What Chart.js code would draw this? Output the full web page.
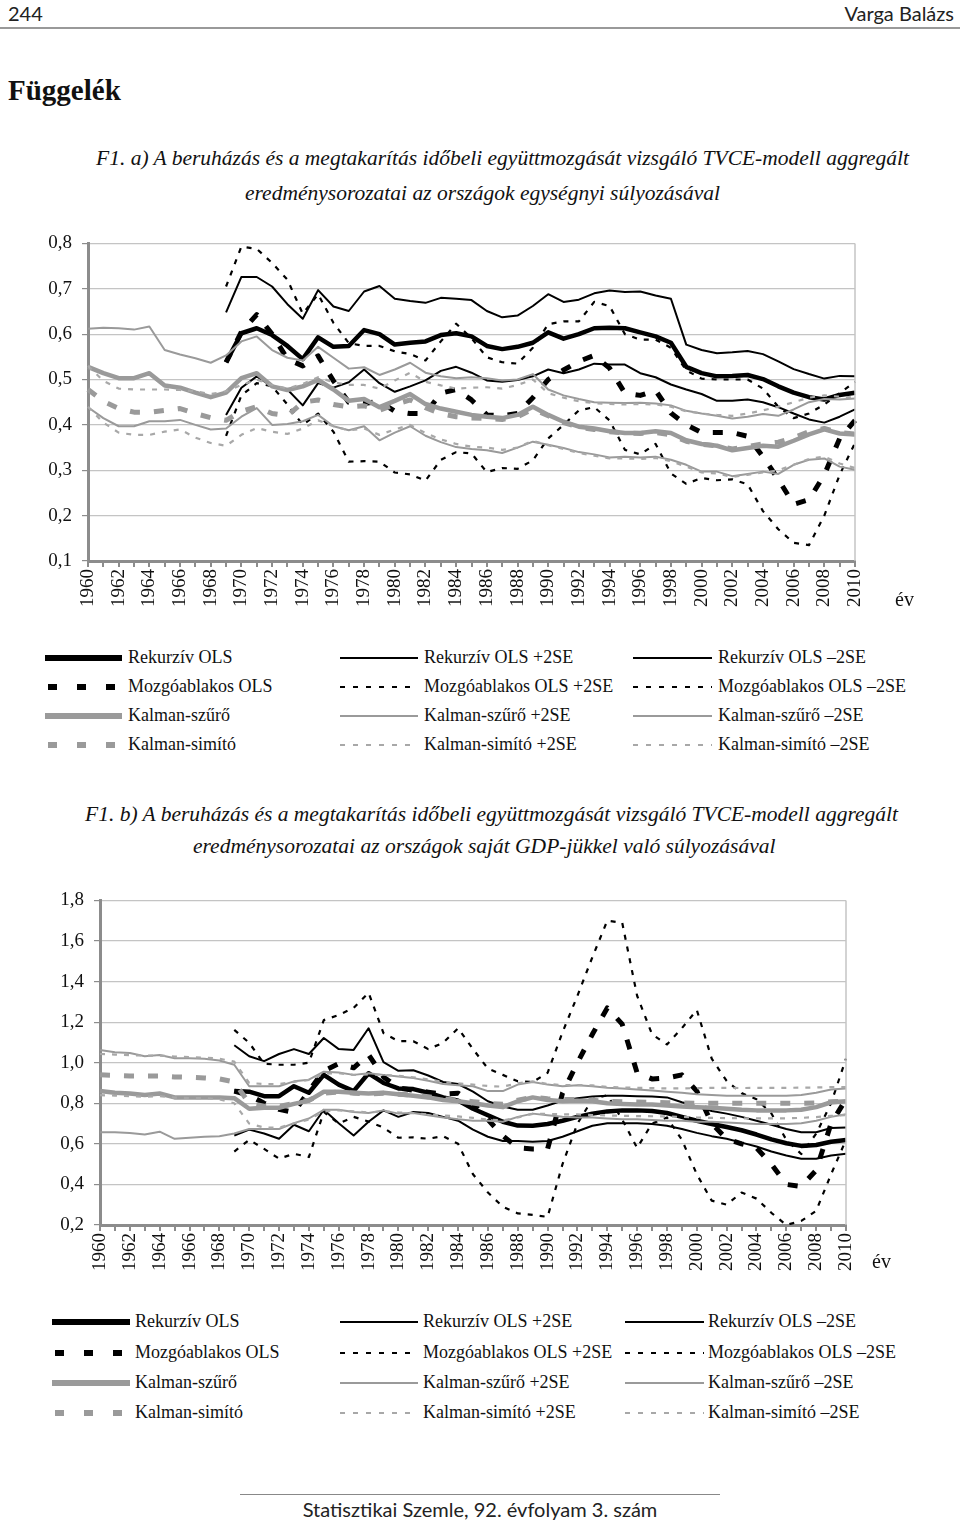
<!DOCTYPE html>
<html>
<head>
<meta charset="utf-8">
<script src="https://cdn.jsdelivr.net/npm/chart.js@4.4.1/dist/chart.umd.min.js"></script>
<style>
    body { margin: 0; background: #fff; width: 960px; height: 1523px; position: relative; overflow: hidden; font-family: "Liberation Serif", serif; color: #111; }
    .abs { position: absolute; white-space: nowrap; }
    .head { font-family: Lato, "DejaVu Sans", sans-serif; font-size: 20px; color: #222; }
    .title { font-style: italic; font-size: 21.5px; }
    .leg { font-size: 18px; }
    canvas { position: absolute; left: 0; }
</style>
</head>
<body>
<div class="abs head" style="left:8px;top:1px;">244</div>
<div class="abs head" style="right:6px;top:1px;">Varga Balázs</div>
<div class="abs" style="left:0;top:27px;width:960px;height:2px;background:#999;"></div>
<div class="abs" style="left:8px;top:74px;font-size:29px;font-weight:bold;">Függelék</div>

<div class="abs title" style="left:96px;top:146px;">F1. a) A beruházás és a megtakarítás időbeli együttmozgását vizsgáló TVCE-modell aggregált</div>
<div class="abs title" style="left:245px;top:181px;">eredménysorozatai az országok egységnyi súlyozásával</div>
<canvas id="chartA" width="960" height="410" style="top:222px"></canvas>
<div class="abs" style="left:895px;top:588px;font-size:20px;">év</div>
<div id="legendA"></div>

<div class="abs title" style="left:85px;top:802px;">F1. b) A beruházás és a megtakarítás időbeli együttmozgását vizsgáló TVCE-modell aggregált</div>
<div class="abs title" style="left:193px;top:834px;">eredménysorozatai az országok saját GDP-jükkel való súlyozásával</div>
<canvas id="chartB" width="960" height="416" style="top:879px"></canvas>
<div class="abs" style="left:872px;top:1250px;font-size:20px;">év</div>
<div id="legendB"></div>

<div class="abs" style="left:240px;top:1494px;width:480px;height:1px;background:#888;"></div>
<div class="abs head" style="left:0;width:960px;text-align:center;top:1497px;font-size:20px;">Statisztikai Szemle, 92. évfolyam 3. szám</div>

<script>
const years = [];
for (let y = 1960; y <= 2010; y++) years.push(y);

const seriesNames = ['Rekurzív OLS', 'Rekurzív OLS +2SE', 'Rekurzív OLS \u20132SE',
    'Mozgóablakos OLS', 'Mozgóablakos OLS +2SE', 'Mozgóablakos OLS \u20132SE',
    'Kalman-szűrő', 'Kalman-szűrő +2SE', 'Kalman-szűrő \u20132SE',
    'Kalman-simító', 'Kalman-simító +2SE', 'Kalman-simító \u20132SE'];

const NA9 = [null, null, null, null, null, null, null, null, null];

// ---- F1. a) egységnyi súlyozás ----
const rekA = [...NA9, 0.538, 0.602, 0.613, 0.598, 0.574, 0.545, 0.593, 0.572, 0.574, 0.609, 0.600, 0.577, 0.581, 0.584, 0.598, 0.602, 0.595, 0.574, 0.567, 0.572, 0.581, 0.604, 0.590, 0.600, 0.613, 0.614, 0.613, 0.604, 0.595, 0.581, 0.528, 0.514, 0.507, 0.508, 0.510, 0.501, 0.485, 0.471, 0.461, 0.456, 0.466, 0.471];
const rekAHi = [...NA9, 0.648, 0.726, 0.726, 0.705, 0.666, 0.634, 0.697, 0.661, 0.651, 0.694, 0.706, 0.678, 0.673, 0.669, 0.680, 0.678, 0.675, 0.651, 0.637, 0.641, 0.662, 0.688, 0.671, 0.676, 0.690, 0.696, 0.693, 0.694, 0.685, 0.678, 0.577, 0.565, 0.558, 0.560, 0.563, 0.556, 0.540, 0.523, 0.512, 0.502, 0.508, 0.507];
const rekALo = [...NA9, 0.422, 0.482, 0.507, 0.485, 0.478, 0.443, 0.492, 0.482, 0.494, 0.522, 0.492, 0.473, 0.485, 0.498, 0.519, 0.528, 0.515, 0.498, 0.495, 0.499, 0.507, 0.522, 0.514, 0.522, 0.535, 0.533, 0.533, 0.514, 0.505, 0.489, 0.478, 0.468, 0.453, 0.453, 0.456, 0.450, 0.439, 0.425, 0.412, 0.405, 0.418, 0.434];
const mozA = [...NA9, 0.538, 0.605, 0.643, 0.600, 0.545, 0.530, 0.552, 0.497, 0.450, 0.447, 0.452, 0.430, 0.425, 0.425, 0.470, 0.478, 0.455, 0.422, 0.420, 0.425, 0.460, 0.500, 0.521, 0.540, 0.553, 0.525, 0.470, 0.465, 0.476, 0.426, 0.400, 0.383, 0.383, 0.383, 0.375, 0.330, 0.280, 0.225, 0.235, 0.290, 0.370, 0.410];
const mozAHi = [...NA9, 0.705, 0.793, 0.788, 0.757, 0.720, 0.645, 0.688, 0.625, 0.580, 0.574, 0.574, 0.562, 0.556, 0.542, 0.584, 0.623, 0.591, 0.549, 0.538, 0.535, 0.570, 0.622, 0.628, 0.628, 0.671, 0.662, 0.600, 0.588, 0.588, 0.570, 0.520, 0.502, 0.500, 0.500, 0.500, 0.480, 0.440, 0.415, 0.425, 0.445, 0.470, 0.495];
const mozALo = [...NA9, 0.376, 0.465, 0.492, 0.485, 0.445, 0.400, 0.425, 0.385, 0.319, 0.320, 0.319, 0.295, 0.291, 0.277, 0.323, 0.340, 0.337, 0.296, 0.305, 0.303, 0.322, 0.370, 0.400, 0.432, 0.439, 0.410, 0.345, 0.335, 0.358, 0.293, 0.270, 0.283, 0.278, 0.280, 0.269, 0.210, 0.170, 0.140, 0.135, 0.200, 0.290, 0.360];
const kalA = [0.528, 0.514, 0.503, 0.503, 0.514, 0.487, 0.482, 0.471, 0.461, 0.471, 0.503, 0.514, 0.485, 0.477, 0.485, 0.499, 0.478, 0.453, 0.457, 0.439, 0.453, 0.468, 0.446, 0.436, 0.429, 0.422, 0.418, 0.415, 0.422, 0.440, 0.422, 0.407, 0.396, 0.392, 0.386, 0.382, 0.382, 0.386, 0.382, 0.366, 0.358, 0.354, 0.344, 0.349, 0.354, 0.352, 0.365, 0.379, 0.390, 0.381, 0.379];
const kalAHi = [0.612, 0.614, 0.613, 0.610, 0.617, 0.565, 0.555, 0.547, 0.537, 0.553, 0.584, 0.595, 0.565, 0.548, 0.542, 0.572, 0.548, 0.524, 0.527, 0.510, 0.522, 0.537, 0.515, 0.507, 0.503, 0.505, 0.503, 0.498, 0.500, 0.512, 0.478, 0.465, 0.457, 0.450, 0.449, 0.448, 0.449, 0.447, 0.443, 0.431, 0.425, 0.420, 0.414, 0.418, 0.424, 0.420, 0.434, 0.450, 0.457, 0.456, 0.458];
const kalALo = [0.439, 0.415, 0.397, 0.397, 0.408, 0.408, 0.411, 0.400, 0.390, 0.392, 0.418, 0.437, 0.400, 0.402, 0.408, 0.422, 0.397, 0.388, 0.397, 0.366, 0.383, 0.397, 0.376, 0.362, 0.351, 0.347, 0.344, 0.338, 0.350, 0.363, 0.356, 0.349, 0.340, 0.335, 0.328, 0.330, 0.328, 0.330, 0.323, 0.312, 0.297, 0.297, 0.287, 0.292, 0.297, 0.292, 0.312, 0.323, 0.326, 0.308, 0.301];
const simA = [0.478, 0.452, 0.436, 0.428, 0.428, 0.432, 0.436, 0.425, 0.416, 0.410, 0.430, 0.440, 0.425, 0.420, 0.450, 0.455, 0.445, 0.440, 0.442, 0.432, 0.445, 0.455, 0.438, 0.425, 0.418, 0.415, 0.414, 0.412, 0.418, 0.435, 0.420, 0.405, 0.395, 0.390, 0.385, 0.382, 0.381, 0.383, 0.378, 0.364, 0.357, 0.354, 0.347, 0.352, 0.358, 0.362, 0.372, 0.385, 0.392, 0.383, 0.380];
const simAHi = [0.530, 0.497, 0.480, 0.478, 0.478, 0.478, 0.477, 0.474, 0.468, 0.474, 0.488, 0.500, 0.488, 0.480, 0.490, 0.505, 0.494, 0.488, 0.488, 0.480, 0.498, 0.515, 0.495, 0.487, 0.480, 0.482, 0.483, 0.480, 0.488, 0.500, 0.470, 0.460, 0.452, 0.448, 0.446, 0.445, 0.446, 0.445, 0.440, 0.430, 0.425, 0.422, 0.420, 0.425, 0.432, 0.440, 0.450, 0.460, 0.465, 0.462, 0.460];
const simALo = [0.440, 0.405, 0.383, 0.378, 0.378, 0.385, 0.390, 0.372, 0.360, 0.354, 0.378, 0.393, 0.385, 0.380, 0.392, 0.410, 0.397, 0.388, 0.392, 0.378, 0.390, 0.400, 0.382, 0.368, 0.358, 0.352, 0.350, 0.345, 0.350, 0.365, 0.355, 0.347, 0.338, 0.332, 0.326, 0.326, 0.325, 0.327, 0.320, 0.308, 0.295, 0.293, 0.285, 0.290, 0.295, 0.300, 0.312, 0.325, 0.330, 0.315, 0.305];

// ---- F1. b) GDP-súlyozás ----
const rekB = [...NA9, 0.860, 0.857, 0.835, 0.835, 0.884, 0.852, 0.940, 0.892, 0.860, 0.948, 0.900, 0.873, 0.870, 0.852, 0.829, 0.813, 0.773, 0.741, 0.709, 0.690, 0.689, 0.698, 0.714, 0.733, 0.749, 0.760, 0.765, 0.765, 0.762, 0.752, 0.733, 0.714, 0.698, 0.683, 0.667, 0.646, 0.622, 0.603, 0.590, 0.594, 0.610, 0.619];
const rekBHi = [...NA9, 1.086, 1.032, 1.008, 1.043, 1.067, 1.043, 1.122, 1.067, 1.063, 1.170, 1.003, 0.960, 0.963, 0.937, 0.905, 0.895, 0.857, 0.810, 0.784, 0.768, 0.768, 0.789, 0.813, 0.825, 0.833, 0.837, 0.837, 0.835, 0.833, 0.829, 0.805, 0.784, 0.762, 0.749, 0.733, 0.714, 0.694, 0.673, 0.657, 0.657, 0.678, 0.681];
const rekBLo = [...NA9, 0.641, 0.670, 0.651, 0.625, 0.694, 0.662, 0.768, 0.702, 0.641, 0.709, 0.765, 0.733, 0.757, 0.752, 0.733, 0.714, 0.670, 0.635, 0.614, 0.614, 0.610, 0.614, 0.635, 0.662, 0.689, 0.702, 0.702, 0.702, 0.698, 0.689, 0.673, 0.654, 0.638, 0.625, 0.606, 0.587, 0.562, 0.543, 0.527, 0.527, 0.543, 0.551];
const mozB = [...NA9, 0.860, 0.840, 0.800, 0.770, 0.755, 0.860, 0.960, 0.995, 0.975, 1.040, 0.930, 0.875, 0.865, 0.855, 0.845, 0.850, 0.800, 0.720, 0.640, 0.580, 0.575, 0.575, 0.850, 1.000, 1.140, 1.270, 1.190, 0.950, 0.920, 0.925, 0.940, 0.860, 0.700, 0.625, 0.600, 0.580, 0.500, 0.400, 0.390, 0.470, 0.700, 0.820];
const mozBHi = [...NA9, 1.162, 1.098, 0.995, 0.990, 0.990, 1.000, 1.210, 1.235, 1.270, 1.345, 1.146, 1.106, 1.106, 1.067, 1.098, 1.170, 1.067, 0.971, 0.940, 0.908, 0.905, 0.950, 1.150, 1.330, 1.520, 1.700, 1.690, 1.330, 1.140, 1.090, 1.170, 1.260, 1.020, 0.910, 0.850, 0.820, 0.750, 0.620, 0.550, 0.650, 0.800, 1.020];
const mozBLo = [...NA9, 0.562, 0.620, 0.575, 0.527, 0.551, 0.535, 0.757, 0.700, 0.733, 0.710, 0.680, 0.630, 0.632, 0.625, 0.638, 0.600, 0.450, 0.360, 0.290, 0.257, 0.250, 0.240, 0.500, 0.700, 0.820, 0.840, 0.720, 0.580, 0.700, 0.730, 0.620, 0.450, 0.320, 0.300, 0.360, 0.330, 0.260, 0.200, 0.220, 0.270, 0.450, 0.620];
const kalB = [0.860, 0.852, 0.848, 0.841, 0.848, 0.829, 0.829, 0.829, 0.829, 0.825, 0.773, 0.778, 0.778, 0.797, 0.813, 0.857, 0.857, 0.852, 0.848, 0.852, 0.844, 0.837, 0.829, 0.816, 0.810, 0.800, 0.789, 0.781, 0.810, 0.829, 0.816, 0.810, 0.813, 0.810, 0.800, 0.797, 0.794, 0.794, 0.789, 0.784, 0.781, 0.778, 0.773, 0.768, 0.765, 0.765, 0.765, 0.768, 0.781, 0.805, 0.810];
const kalBHi = [1.063, 1.051, 1.048, 1.032, 1.038, 1.022, 1.022, 1.019, 1.011, 0.990, 0.884, 0.884, 0.884, 0.908, 0.916, 0.956, 0.952, 0.940, 0.948, 0.940, 0.932, 0.924, 0.911, 0.895, 0.889, 0.884, 0.860, 0.860, 0.892, 0.905, 0.892, 0.884, 0.889, 0.884, 0.876, 0.873, 0.868, 0.863, 0.857, 0.852, 0.844, 0.841, 0.837, 0.837, 0.837, 0.837, 0.837, 0.841, 0.852, 0.868, 0.873];
const kalBLo = [0.657, 0.657, 0.654, 0.646, 0.660, 0.625, 0.630, 0.635, 0.638, 0.651, 0.673, 0.673, 0.673, 0.702, 0.725, 0.768, 0.768, 0.757, 0.752, 0.765, 0.749, 0.752, 0.741, 0.730, 0.721, 0.714, 0.714, 0.709, 0.733, 0.749, 0.741, 0.733, 0.730, 0.730, 0.725, 0.721, 0.721, 0.717, 0.714, 0.714, 0.709, 0.709, 0.705, 0.702, 0.698, 0.698, 0.698, 0.702, 0.714, 0.733, 0.746];
const simB = [0.940, 0.938, 0.935, 0.935, 0.935, 0.930, 0.928, 0.925, 0.920, 0.905, 0.800, 0.785, 0.785, 0.800, 0.815, 0.850, 0.855, 0.850, 0.845, 0.850, 0.845, 0.840, 0.832, 0.822, 0.815, 0.808, 0.800, 0.795, 0.815, 0.830, 0.822, 0.818, 0.818, 0.815, 0.810, 0.808, 0.806, 0.805, 0.803, 0.802, 0.800, 0.800, 0.800, 0.800, 0.800, 0.800, 0.800, 0.800, 0.802, 0.808, 0.810];
const simBHi = [1.043, 1.040, 1.037, 1.035, 1.035, 1.030, 1.028, 1.025, 1.020, 1.005, 0.900, 0.895, 0.895, 0.905, 0.915, 0.945, 0.948, 0.940, 0.942, 0.940, 0.935, 0.928, 0.918, 0.905, 0.898, 0.892, 0.885, 0.882, 0.898, 0.908, 0.895, 0.890, 0.890, 0.888, 0.880, 0.878, 0.876, 0.875, 0.873, 0.873, 0.875, 0.876, 0.876, 0.875, 0.876, 0.876, 0.876, 0.877, 0.878, 0.880, 0.880];
const simBLo = [0.840, 0.838, 0.835, 0.832, 0.835, 0.828, 0.826, 0.825, 0.820, 0.800, 0.700, 0.680, 0.680, 0.700, 0.720, 0.760, 0.765, 0.760, 0.755, 0.760, 0.755, 0.752, 0.745, 0.740, 0.735, 0.728, 0.720, 0.715, 0.730, 0.748, 0.748, 0.745, 0.745, 0.742, 0.740, 0.738, 0.737, 0.736, 0.735, 0.733, 0.730, 0.728, 0.727, 0.726, 0.726, 0.726, 0.726, 0.728, 0.732, 0.738, 0.742];

// line styles, same order as seriesNames
const BLACK = '#000';
const GRAY = '#9a9a9a';
const LGRAY = '#a8a8a8';
const styles = [
    { color: BLACK, width: 4.5, dash: [] },
    { color: BLACK, width: 2, dash: [] },
    { color: BLACK, width: 2, dash: [] },
    { color: BLACK, width: 5, dash: [10, 14] },
    { color: BLACK, width: 2.2, dash: [5, 7] },
    { color: BLACK, width: 2.2, dash: [5, 7] },
    { color: GRAY, width: 4.5, dash: [] },
    { color: GRAY, width: 2, dash: [] },
    { color: GRAY, width: 2, dash: [] },
    { color: GRAY, width: 5, dash: [10, 14] },
    { color: LGRAY, width: 2.2, dash: [5, 7] },
    { color: LGRAY, width: 2.2, dash: [5, 7] }
];

function buildSets(values) {
    // draw order: gray first, black on top
    const order = [11, 10, 8, 7, 9, 6, 5, 4, 2, 1, 3, 0];
    return order.map(k => ({
        label: seriesNames[k],
        data: values[k],
        borderColor: styles[k].color,
        borderWidth: styles[k].width,
        borderDash: styles[k].dash,
        borderCapStyle: 'butt',
        borderJoinStyle: 'round',
        pointRadius: 0,
        fill: false,
        tension: 0,
        spanGaps: false
    }));
}

const plotFrame = {
    id: 'plotFrame',
    afterDraw(chart) {
        const a = chart.chartArea, c = chart.ctx;
        c.save();
        c.strokeStyle = '#c4c4c4';
        c.lineWidth = 1.5;
        c.beginPath();
        c.moveTo(a.right, a.top);
        c.lineTo(a.right, a.bottom);
        c.stroke();
        c.restore();
    }
};

function makeChart(id, values, yMin, yMax, step, yWidth, rightPad, xHeight) {
    const ctx = document.getElementById(id).getContext('2d');
    new Chart(ctx, {
        type: 'line',
        data: { labels: years, datasets: buildSets(values) },
        options: {
            responsive: false,
            animation: false,
            events: [],
            layout: { padding: { top: 10, right: rightPad, left: 0, bottom: 0 } },
            plugins: { legend: { display: false }, tooltip: { enabled: false } },
            scales: {
                x: {
                    ticks: {
                        autoSkip: false, minRotation: 90, maxRotation: 90, padding: 2,
                        color: '#111', font: { family: 'Liberation Serif', size: 19 },
                        callback: (v, i) => (i % 2 === 0 ? String(years[i]) : '')
                    },
                    grid: { display: true, drawOnChartArea: false, color: '#8c8c8c', lineWidth: 2, tickLength: 6 },
                    border: { display: true, color: '#8c8c8c', width: 3 },
                    afterFit: axis => { axis.height = xHeight; }
                },
                y: {
                    min: yMin, max: yMax,
                    ticks: {
                        stepSize: step, padding: 10, color: '#111',
                        font: { family: 'Liberation Serif', size: 19 },
                        callback: v => v.toFixed(1).replace('.', ',')
                    },
                    grid: { color: '#c4c4c4', lineWidth: 1.2, tickColor: '#8c8c8c', tickLength: 6 },
                    border: { display: true, color: '#8c8c8c', width: 3 },
                    afterFit: axis => { axis.width = yWidth; }
                }
            }
        },
        plugins: [plotFrame]
    });
}

makeChart('chartA', [rekA, rekAHi, rekALo, mozA, mozAHi, mozALo, kalA, kalAHi, kalALo, simA, simAHi, simALo],
    0.1, 0.8, 0.1, 88, 105, 71);
makeChart('chartB', [rekB, rekBHi, rekBLo, mozB, mozBHi, mozBLo, kalB, kalBHi, kalBLo, simB, simBHi, simBLo],
    0.2, 1.8, 0.2, 100, 114, 70);

// legends: 3 columns x 4 rows
function makeLegend(id, rowTops, cols) {
    const box = document.getElementById(id);
    seriesNames.forEach((name, k) => {
        const row = Math.floor(k / 3), col = k % 3;
        const st = styles[k];
        const c = cols[col];
        const y = rowTops[row];
        let dash = '';
        if (st.dash.length) dash = st.width > 3 ? 'stroke-dasharray="9 20"' : 'stroke-dasharray="5 8"';
        const w = st.width > 3 ? 6 : 2.2;
        const svg = `<svg class="abs" style="left:${c.x0}px;top:${y - 6}px" width="${c.x1 - c.x0}" height="12">` +
            `<line x1="${st.dash.length && st.width > 3 ? 3 : 0}" y1="6" x2="${c.x1 - c.x0}" y2="6" stroke="${st.color}" stroke-width="${w}" ${dash}/></svg>`;
        box.insertAdjacentHTML('beforeend', svg +
            `<div class="abs leg" style="left:${c.tx}px;top:${y - 11}px">${name}</div>`);
    });
}

makeLegend('legendA', [658, 687, 716, 745],
    [{ x0: 45, x1: 122, tx: 128 }, { x0: 340, x1: 418, tx: 424 }, { x0: 633, x1: 712, tx: 718 }]);
makeLegend('legendB', [1322, 1353, 1383, 1413],
    [{ x0: 52, x1: 130, tx: 135 }, { x0: 340, x1: 418, tx: 423 }, { x0: 625, x1: 704, tx: 708 }]);
</script>
</body>
</html>
